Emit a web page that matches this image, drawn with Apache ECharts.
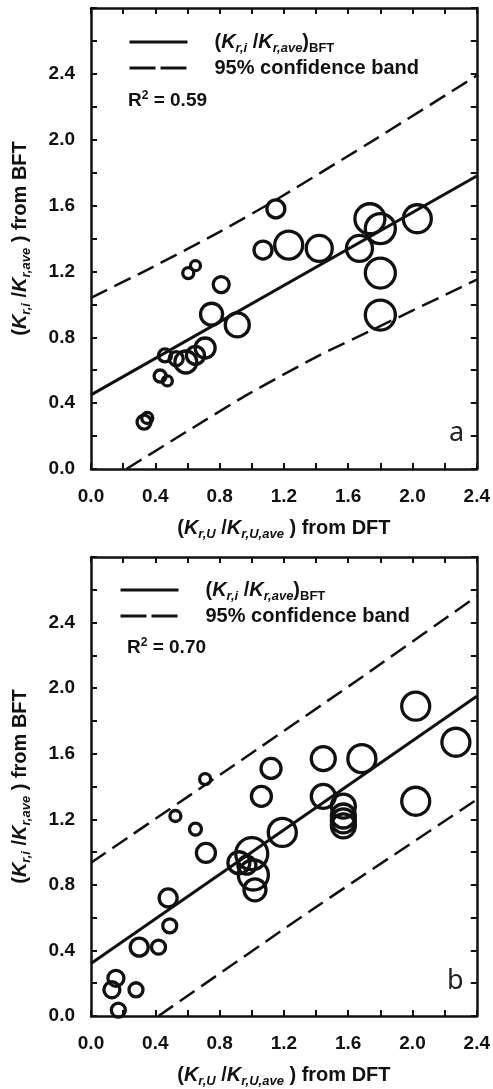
<!DOCTYPE html>
<html>
<head>
<meta charset="utf-8">
<script src="https://cdn.jsdelivr.net/npm/echarts@6/dist/echarts.min.js"></script>
<style>
    html, body { margin: 0; padding: 0; background: #fff; }
    #chartmain { width: 493px; height: 1089px; }
</style>
</head>
<body>
<div id="chartmain"></div>
<script>
// panel a: points (x, y, bubble value)
var xA = [0.33, 0.35, 0.43, 0.475, 0.46, 0.53, 0.59, 0.65, 0.71, 0.75, 0.81, 0.91, 0.605, 0.65, 1.07, 1.15, 1.23, 1.42, 1.67, 1.735, 1.80, 2.03, 1.80, 1.80];
var yA = [0.285, 0.31, 0.565, 0.535, 0.69, 0.67, 0.65, 0.69, 0.735, 0.94, 1.12, 0.875, 1.19, 1.235, 1.33, 1.58, 1.36, 1.34, 1.34, 1.52, 1.46, 1.52, 1.19, 0.935];
var bubA = [8, 6.5, 7, 6, 7.5, 8, 12, 10, 11, 12, 9, 13, 6.5, 6, 10, 10, 15, 14, 14, 16, 16, 15, 16, 16];
// panel a: fit line and 95% band
var fitXA = [0, 2.4];
var fitYA = [0.45, 1.78];
var upXA = [0, 0.35, 0.8, 1.17, 1.78, 2.4];
var upYA = [1.04, 1.21, 1.44, 1.646, 2.01, 2.39];
var loXA = [0.22, 0.6, 0.97, 1.4, 1.75, 2.4];
var loYA = [0, 0.23, 0.45, 0.68, 0.845, 1.15];

// panel b
var xB = [0.17, 0.13, 0.155, 0.28, 0.30, 0.42, 0.49, 0.48, 0.525, 0.65, 0.71, 0.715, 0.92, 0.97, 1.00, 1.01, 1.02, 1.06, 1.12, 1.19, 1.445, 1.445, 1.685, 1.57, 1.57, 1.57, 1.57, 2.02, 2.27, 2.02];
var yB = [0.036, 0.16, 0.23, 0.16, 0.42, 0.42, 0.55, 0.72, 1.22, 1.14, 1.445, 0.995, 0.935, 0.92, 0.99, 0.86, 0.77, 1.34, 1.51, 1.12, 1.57, 1.34, 1.57, 1.28, 1.22, 1.19, 1.16, 1.89, 1.67, 1.31];
var bubB = [8, 9, 9, 8, 10, 8, 8, 10, 6.5, 7, 6.5, 10.5, 12, 10, 17, 16, 12, 11, 11, 15, 13, 13, 15, 13, 13, 13, 13, 15, 15, 15];
var fitXB = [0, 2.4];
var fitYB = [0.32, 1.95];
var upXB = [0, 0.86, 1.66, 2.4];
var upYB = [0.935, 1.51, 2.05, 2.56];
var loXB = [0.42, 1.37, 2.4];
var loYB = [0, 0.645, 1.32];

var r2Labels = ['0.59', '0.70'];
var panelLabels = ['a', 'b'];

var font = 'Liberation Sans, Arial, sans-serif';
var ink = '#111';

function zip(xs, ys, ws){
    var out = [];
    for(var i = 0; i < xs.length; i++){
        out.push(ws ? [xs[i], ys[i], ws[i]] : [xs[i], ys[i]]);
    }
    return out;
}

var nameRich = {
    t: { fontFamily: font, fontWeight: 'bold', fontSize: 20, color: ink, lineHeight: 26 },
    k: { fontFamily: font, fontWeight: 'bold', fontStyle: 'italic', fontSize: 20, color: ink, lineHeight: 26 },
    s: { fontFamily: font, fontWeight: 'bold', fontStyle: 'italic', fontSize: 13, color: ink, verticalAlign: 'bottom', lineHeight: 12 },
    b: { fontFamily: font, fontWeight: 'bold', fontSize: 13, color: ink, verticalAlign: 'bottom', lineHeight: 12 },
    g: { width: 22 }
};

function tickLabel(v){
    var n = Math.round(v * 10);
    if(n % 4 === 0 && v < 2.5) return v.toFixed(1);
    return '';
}

function makeX(grid, pos){
    var bottom = pos === 'bottom';
    return {
        type: 'value', gridIndex: grid, position: pos,
        min: 0, max: 2.4, interval: 0.2,
        name: bottom ? '{t|(}{k|K}{s|r,U}{t| /}{k|K}{s|r,U,ave}{t| ) from DFT}' : '',
        nameLocation: 'middle', nameGap: 46,
        nameTextStyle: { rich: nameRich },
        axisLine: { show: true, onZero: false, lineStyle: { color: ink, width: 2.5 } },
        axisTick: { show: true, inside: true, length: 6, lineStyle: { color: ink, width: 2 } },
        axisLabel: { show: bottom, margin: 18, formatter: tickLabel, color: ink,
            fontFamily: font, fontWeight: 'bold', fontSize: 19 },
        splitLine: { show: false }
    };
}

function makeY(grid, pos){
    var left = pos === 'left';
    return {
        type: 'value', gridIndex: grid, position: pos,
        min: 0, max: 2.8, interval: 0.2,
        name: left ? '{t|(}{k|K}{s|r,i}{t| /}{k|K}{s|r,ave}{t| ) from BFT}' : '',
        nameLocation: 'middle', nameGap: 58, nameRotate: 90,
        nameTextStyle: { rich: nameRich },
        axisLine: { show: true, onZero: false, lineStyle: { color: ink, width: 2.5 } },
        axisTick: { show: true, inside: true, length: 6, lineStyle: { color: ink, width: 2 } },
        axisLabel: { show: left, margin: 16, formatter: tickLabel, color: ink,
            fontFamily: font, fontWeight: 'bold', fontSize: 19 },
        splitLine: { show: false }
    };
}

function panelSeries(p, pts, fitX, fitY, upX, upY, loX, loY){
    var xi = p * 2, yi = p * 2;
    var lineBase = { type: 'line', xAxisIndex: xi, yAxisIndex: yi, symbol: 'none', silent: true, clip: true, z: 3,
        itemStyle: { color: ink } };
    return [
        {
            type: 'scatter', xAxisIndex: xi, yAxisIndex: yi, data: pts,
            symbol: 'circle',
            symbolSize: function(v){ return v[2] * 2 - 2; },
            itemStyle: { color: 'rgba(0,0,0,0)', borderColor: ink, borderWidth: 3.3, opacity: 1 },
            z: 2
        },
        Object.assign({}, lineBase, { name: 'fit', data: zip(fitX, fitY),
            lineStyle: { color: ink, width: 3, type: 'solid' } }),
        Object.assign({}, lineBase, { name: 'band', data: zip(upX, upY), smooth: 0.2,
            lineStyle: { color: ink, width: 2.5, type: [18, 8] } }),
        Object.assign({}, lineBase, { name: 'band', data: zip(loX, loY), smooth: 0.2,
            lineStyle: { color: ink, width: 2.5, type: [18, 8] } })
    ];
}

function legendFor(left, top){
    return {
        left: left, top: top, orient: 'vertical', padding: 0,
        itemWidth: 58, itemHeight: 14, itemGap: 3,
        data: [
            { name: 'fit', lineStyle: { type: 'solid', width: 3, color: ink } },
            { name: 'band', lineStyle: { type: [26, 5], width: 2.8, color: ink } }
        ],
        selectedMode: false,
        itemStyle: { opacity: 0 },
        formatter: function(name){
            if(name === 'fit') return '{g|}{t|(}{k|K}{s|r,i}{t| /}{k|K}{s|r,ave}{t|)}{b|BFT}';
            return '{g|}{t|95% confidence band}';
        },
        textStyle: { rich: nameRich }
    };
}

var labelTitle = function(left, top, txt){
    return {
        left: left, top: top, padding: 0, text: txt,
        textStyle: { fontFamily: 'Noto Sans, sans-serif', fontWeight: 'normal', fontSize: 27, color: '#222' }
    };
};
var r2Title = function(left, top, txt){
    return {
        left: left, top: top, padding: 0,
        text: '{b|R}{sup|2}{b| = ' + txt + '}',
        textStyle: {
            rich: {
                b: { fontFamily: font, fontWeight: 'bold', fontSize: 19, color: ink, lineHeight: 22 },
                sup: { fontFamily: font, fontWeight: 'bold', fontSize: 12, color: ink, verticalAlign: 'top', lineHeight: 14 }
            }
        }
    };
};

var option = {
    backgroundColor: '#fff',
    animation: false,
    title: [
        r2Title(128, 90, r2Labels[0]),
        r2Title(127, 637, r2Labels[1]),
        labelTitle(449, 420, panelLabels[0]),
        labelTitle(447, 968, panelLabels[1])
    ],
    legend: [legendFor(128, 32), legendFor(119, 580)],
    grid: [
        { left: 91, top: 8, width: 389, height: 461 },
        { left: 91, top: 557, width: 389, height: 461 }
    ],
    xAxis: [makeX(0, 'bottom'), makeX(0, 'top'), makeX(1, 'bottom'), makeX(1, 'top')],
    yAxis: [makeY(0, 'left'), makeY(0, 'right'), makeY(1, 'left'), makeY(1, 'right')],
    series: [].concat(
        panelSeries(0, zip(xA, yA, bubA), fitXA, fitYA, upXA, upYA, loXA, loYA),
        panelSeries(1, zip(xB, yB, bubB), fitXB, fitYB, upXB, upYB, loXB, loYB)
    )
};

var myChart = echarts.init(document.getElementById('chartmain'));
myChart.setOption(option);
</script>
</body>
</html>
